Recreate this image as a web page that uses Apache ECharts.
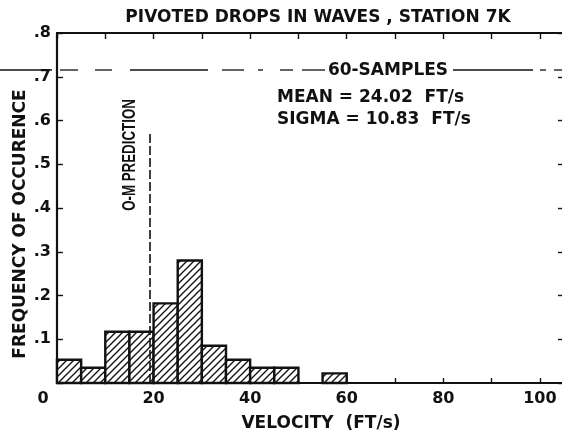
<!DOCTYPE html>
<html>
<head>
<meta charset="utf-8">
<style>
html,body{margin:0;padding:0;background:#fff;}
#chart{width:562px;height:436px;}
</style>
<script src="https://cdn.jsdelivr.net/npm/echarts@6/dist/echarts.min.js"></script>
</head>
<body>
<div id="chart"></div>
<script>
// ---- data ----
var binStart = [0, 5, 10, 15, 20, 25, 30, 35, 40, 45, 50, 55];
var binEnd   = [5, 10, 15, 20, 25, 30, 35, 40, 45, 50, 55, 60];
var freq     = [0.053, 0.035, 0.117, 0.117, 0.182, 0.28, 0.085, 0.053, 0.035, 0.035, 0, 0.022];
var xTickLabels = [0, 20, 40, 60, 80, 100];
var yTickLabels = ['.1', '.2', '.3', '.4', '.5', '.6', '.7', '.8'];
var predictionX = 19.2;
var predictionTop = 0.572;
var titleText = 'PIVOTED DROPS IN WAVES , STATION 7K';
var xName = 'VELOCITY  (FT/s)';
var yName = 'FREQUENCY OF OCCURENCE';
var annSamples = '60-SAMPLES';
var annMean = 'MEAN = 24.02  FT/s';
var annSigma = 'SIGMA = 10.83  FT/s';
var annPred = 'O-M PREDICTION';

// hatch pattern
var pc = document.createElement('canvas');
pc.width = 7; pc.height = 7;
var ctx = pc.getContext('2d');
ctx.fillStyle = '#fff'; ctx.fillRect(0, 0, 7, 7);
ctx.strokeStyle = '#111'; ctx.lineWidth = 1.3;
[[-7, 0], [0, 0], [7, 0]].forEach(function (o) {
  ctx.beginPath();
  ctx.moveTo(o[0] - 1, 8); ctx.lineTo(o[0] + 8, -1);
  ctx.stroke();
});

var bars = binStart.map(function (s, i) { return [s, binEnd[i], freq[i]]; });
var FONT = 'DejaVu Sans';
var BLACK = '#111';

var chart = echarts.init(document.getElementById('chart'), null, {renderer: 'canvas'});
chart.setOption({
  animation: false,
  backgroundColor: '#fff',
  grid: {left: 57, right: -2, top: 33, bottom: 53, containLabel: false, outerBoundsMode: 'none'},
  xAxis: [{
    type: 'value', min: 0, max: 105, interval: 10, position: 'bottom',
    axisLine: {onZero: false, lineStyle: {color: BLACK, width: 2.2}},
    axisTick: {inside: true, length: 5, lineStyle: {color: BLACK, width: 1.4}},
    splitLine: {show: false},
    axisLabel: {
      margin: 8, color: BLACK, fontFamily: FONT, fontWeight: 'bold', fontSize: 16,
      formatter: function (v) {
        if (xTickLabels.indexOf(v) < 0) return '';
        return v === 0 ? '{z|0}' : String(v);
      },
      rich: {z: {padding: [0, 28, 0, 0], color: BLACK, fontFamily: FONT, fontWeight: 'bold', fontSize: 16}}
    }
  }, {
    type: 'value', min: 0, max: 105, interval: 10, position: 'top',
    axisLine: {onZero: false, lineStyle: {color: BLACK, width: 2.2}},
    axisTick: {inside: true, length: 6, lineStyle: {color: BLACK, width: 1.4}},
    splitLine: {show: false}, axisLabel: {show: false}
  }],
  yAxis: [{
    type: 'value', min: 0, max: 0.8, interval: 0.1, position: 'left',
    axisLine: {onZero: false, lineStyle: {color: BLACK, width: 2.2}},
    axisTick: {inside: true, length: 6, lineStyle: {color: BLACK, width: 1.4}},
    splitLine: {show: false},
    axisLabel: {
      margin: 6, color: BLACK, fontFamily: FONT, fontWeight: 'bold', fontSize: 16,
      formatter: function (v) {
        var k = Math.round(v * 10);
        return k === 0 ? '' : yTickLabels[k - 1];
      }
    }
  }, {
    type: 'value', min: 0, max: 0.8, interval: 0.1, position: 'right',
    axisLine: {onZero: false, lineStyle: {color: BLACK, width: 2.2}},
    axisTick: {inside: true, length: 6, lineStyle: {color: BLACK, width: 1.4}},
    splitLine: {show: false}, axisLabel: {show: false}
  }],
  series: [{
    type: 'custom',
    xAxisIndex: 0, yAxisIndex: 0,
    data: bars,
    renderItem: function (params, api) {
      var h = api.value(2);
      if (!h) return null;
      var p0 = api.coord([api.value(0), h]);
      var p1 = api.coord([api.value(1), 0]);
      return {
        type: 'rect',
        shape: {x: p0[0], y: p0[1], width: p1[0] - p0[0], height: p1[1] - p0[1]},
        style: {fill: {image: pc, repeat: 'repeat'}, stroke: BLACK, lineWidth: 2.4}
      };
    },
    markLine: {
      silent: true, symbol: ['none', 'none'],
      label: {show: false},
      lineStyle: {color: BLACK, width: 1.6, type: [9, 3]},
      data: [[{coord: [predictionX, 0]}, {coord: [predictionX, predictionTop]}]]
    }
  }],
  graphic: [
    {type: 'text', x: 318, y: 18, style: {text: titleText, font: 'bold 17px "DejaVu Sans"', fill: BLACK, align: 'center', verticalAlign: 'middle'}},
    {type: 'text', x: 21, y: 224, rotation: Math.PI / 2, style: {text: yName, font: 'bold 17px "DejaVu Sans"', fill: BLACK, align: 'center', verticalAlign: 'middle'}},
    {type: 'text', x: 321, y: 424, style: {text: xName, font: 'bold 17px "DejaVu Sans"', fill: BLACK, align: 'center', verticalAlign: 'middle'}},
    {type: 'text', x: 130, y: 155, rotation: Math.PI / 2, scaleX: 0.74, style: {text: annPred, font: 'bold 18px "Liberation Sans"', fill: BLACK, align: 'center', verticalAlign: 'middle'}},
    {type: 'text', x: 388, y: 71, style: {text: annSamples, font: 'bold 17px "DejaVu Sans"', fill: BLACK, align: 'center', verticalAlign: 'middle'}},
    {type: 'text', x: 277, y: 98, style: {text: annMean, font: 'bold 17px "DejaVu Sans"', fill: BLACK, align: 'left', verticalAlign: 'middle'}},
    {type: 'text', x: 277, y: 120, style: {text: annSigma, font: 'bold 17px "DejaVu Sans"', fill: BLACK, align: 'left', verticalAlign: 'middle'}},
    {type: 'group', children: [
      [0, 52], [60, 78], [95, 112], [130, 208], [222, 244], [258, 263], [280, 293], [302, 325],
      [453, 533], [540, 546], [554, 562]
    ].map(function (s) {
      return {type: 'line', shape: {x1: s[0], y1: 70, x2: s[1], y2: 70}, style: {stroke: BLACK, lineWidth: 1.3}};
    })}
  ]
});
</script>
</body>
</html>
